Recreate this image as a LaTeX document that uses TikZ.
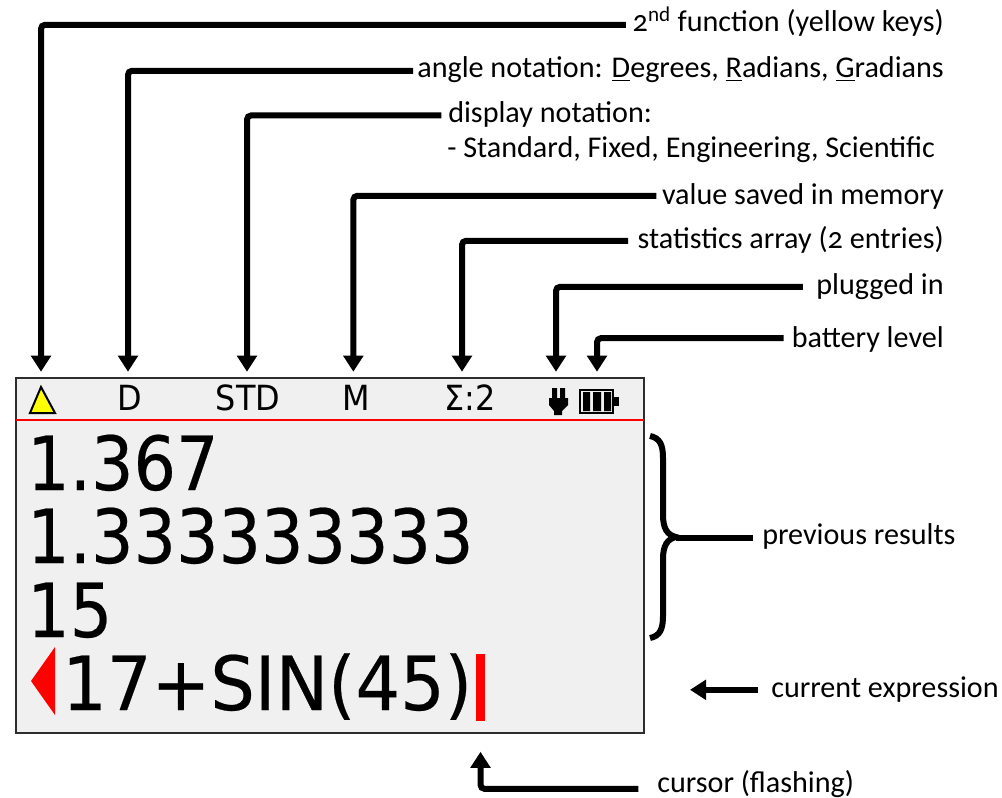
\documentclass[tikz,border=0pt]{standalone}
\usepackage{fontspec}
\setmainfont[Numbers=OldStyle]{Carlito}
\newfontfamily\dispfont[FakeStretch=0.895,FakeBold=0.3]{DejaVu Sans}
\newfontfamily\exprfont[FakeStretch=0.94,FakeBold=0.3]{DejaVu Sans}
\newfontfamily\statfont[FakeStretch=0.92]{DejaVu Sans}
\usepackage{tikz}
\usetikzlibrary{arrows.meta,positioning}
\usepackage{xcolor}
\definecolor{lcdgrey}{RGB}{240,240,240}
\definecolor{lcdframe}{RGB}{45,45,45}
\definecolor{lcdred}{RGB}{255,0,0}
\definecolor{keyyellow}{RGB}{255,255,0}
\tikzstyle{arrow} = [line width=4.5pt,rounded corners=3pt,-{Triangle[width=14.5pt,length=12pt]},color=black]
\tikzstyle{brace} = [line width=4.5pt,color=black]
\tikzstyle{callout} = [anchor=base east, inner sep=0pt, font=\fontsize{22.6}{22.6}\selectfont]
\tikzstyle{indicator} = [inner sep=0pt, minimum height=39pt, text height=18pt, text depth=0pt, font=\statfont\fontsize{26}{26}\selectfont]
\tikzstyle{bigline} = [anchor=base west, inner sep=0pt, font=\dispfont\fontsize{56}{56}\selectfont]
\begin{document}
\begin{tikzpicture}[x=0.75pt,y=-0.75pt]
\useasboundingbox (0,0) rectangle (1002,798);

% Display
\draw[draw=lcdframe, fill=lcdgrey, line width=1.5pt] (16,378) rectangle (644,733);
\draw[draw=lcdred, line width=1.5pt] (16,420) -- (644,420);

% Status line
\node[indicator] (warn) at (41,398) {};
\draw[draw=black, fill=keyyellow, line width=1.5pt] (41,387) -- (55,413) -- (30,413) -- cycle;
\node[indicator] (angle) at (130,398) {D};
\node[indicator] (std) at (248,398) {STD};
\node[indicator] (mem) at (356,398) {M};
\node[indicator] (stat) at (470,398) {Σ:2};
\node[indicator] (plug) at (556,398) {};
\node[indicator] (batt) at (597,398) {};

% Plug
\fill[black] (552,388) rectangle (557,399) (560,388) rectangle (565,399);
\fill[black] (549,398) -- (568,398) -- (568,405) -- (562,411) -- (562,415) -- (554,415) -- (554,411) -- (549,405) -- cycle;

% Battery
\draw[black, line width=1.2pt] (580,390) rectangle (613,413);
\fill[black] (583,392) rectangle (590,411) (593,392) rectangle (601,411) (604,392) rectangle (611,411);
\fill[black] (614,397) rectangle (619,406);

% Lines
\node[bigline] (res1) at (27,490) {1.367};
\node[bigline] (res2) at (27,563) {1.333333333};
\node[bigline] (res3) at (27,637) {15};
\node[bigline, font=\exprfont\fontsize{56}{56}\selectfont] (expr) at (62,710) {17+SIN(45)};
\fill[lcdred] (31,681) -- (55,647) -- (55,715) -- cycle;
\node[fill=lcdred, inner sep=0pt, minimum width=6.75pt, minimum height=50pt] (cursor) at (480.5,687.5) {};

% Labels
\node[callout] (fnlbl) at (944,32) {2\textsuperscript{nd} function (yellow keys)};
\node[callout] (anglelbl) at (944,78) {angle notation: \underline{D}egrees, \underline{R}adians, \underline{G}radians};
\node[callout, anchor=base west] (dsphead) at (448,123) {display notation:};
\node[callout, anchor=base west] (dspbody) at (447,158) {- Standard, Fixed, Engineering, Scientific};
\node[callout] (memlbl) at (944,205) {value saved in memory};
\node[callout] (statlbl) at (944,249) {statistics array (2 entries)};
\node[callout] (pluglbl) at (944,295) {plugged in};
\node[callout] (battlbl) at (944,348) {battery level};
\node[callout, anchor=base west] (prevlbl) at (762,544) {previous results};
\node[callout, anchor=base west] (curlbl) at (771,697) {current expression};
\node[callout, anchor=base west] (curslbl) at (657,792) {cursor (flashing)};

% Arrows
\draw[arrow, shorten <=5pt] ([yshift=3pt]fnlbl.mid west) -| (warn.north);
\draw[arrow, shorten <=3pt] ([yshift=3pt]anglelbl.mid west) -| ([xshift=-1.5pt]angle.north);
\draw[arrow, shorten <=5pt] ([yshift=3.25pt]dsphead.mid west) -| ([xshift=-.75pt]std.north);
\draw[arrow, shorten <=4pt] ([yshift=4.5pt]memlbl.mid west) -| ([xshift=-2pt]mem.north);
\draw[arrow, shorten <=7pt] ([yshift=3.75pt]statlbl.mid west) -| ([xshift=-6pt]stat.north);
\draw[arrow, shorten <=10pt] ([yshift=3.75pt]pluglbl.mid west) -| (plug.north);
\draw[arrow, shorten <=6pt] ([yshift=5pt]battlbl.mid west) -| (batt.north);

% Brace
\coordinate (bracetip) at (676,537);
\draw[brace] (650,436) .. controls (660,438) and (663,445) .. (663,458) -- (663,515) .. controls (663,528) and (667,535) .. (bracetip) .. controls (667,539) and (663,546) .. (663,559) -- (663,616) .. controls (663,629) and (660,636) .. (650,638);
\draw[brace, shorten <=7pt] ([yshift=2.25pt]prevlbl.mid west) -- ([yshift=2.25pt]prevlbl.mid west -| bracetip);

% Current expression and cursor
\coordinate (curtip) at (690,689);
\draw[arrow, shorten <=10pt] ([yshift=3pt]curlbl.mid west) -- ([yshift=3pt]curlbl.mid west -| curtip);
\draw[arrow, shorten <=14pt, shorten >=23pt] (curslbl.mid west) -| (cursor.south);
\end{tikzpicture}
\end{document}
